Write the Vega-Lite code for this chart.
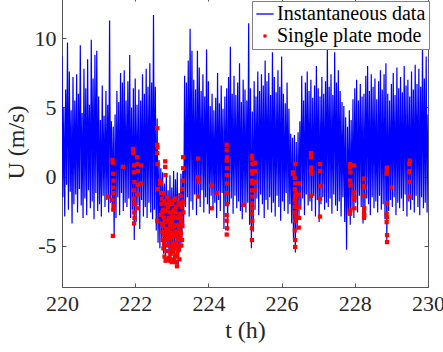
{
  "$schema": "https://vega.github.io/schema/vega-lite/v6.json",
  "width": 366,
  "height": 290,
  "autosize": {"type": "none"},
  "padding": {"left": 62, "top": -3, "right": 15, "bottom": 65},
  "background": "white",
  "datasets": {
    "inst": [
      {"t":220.000,"u":8.7},{"t":220.025,"u":-1.5},{"t":220.050,"u":5.0},{"t":220.075,"u":-2.9},{"t":220.100,"u":6.3},{"t":220.125,"u":-0.6},{"t":220.150,"u":9.7},{"t":220.175,"u":-2.4},{"t":220.200,"u":7.6},{"t":220.225,"u":-1.1},
      {"t":220.250,"u":4.8},{"t":220.275,"u":-3.4},{"t":220.300,"u":7.2},{"t":220.325,"u":-2.0},{"t":220.350,"u":5.5},{"t":220.375,"u":-1.3},{"t":220.400,"u":7.4},{"t":220.425,"u":-2.6},{"t":220.450,"u":6.0},{"t":220.475,"u":-0.9},
      {"t":220.500,"u":9.5},{"t":220.525,"u":-2.1},{"t":220.550,"u":4.6},{"t":220.575,"u":-3.0},{"t":220.600,"u":7.8},{"t":220.625,"u":-1.6},{"t":220.650,"u":6.4},{"t":220.675,"u":-2.8},{"t":220.700,"u":8.5},{"t":220.725,"u":-1.0},
      {"t":220.750,"u":5.2},{"t":220.775,"u":-2.3},{"t":220.800,"u":9.9},{"t":220.825,"u":-1.8},{"t":220.850,"u":7.1},{"t":220.875,"u":-3.1},{"t":220.900,"u":8.8},{"t":220.925,"u":-1.2},{"t":220.950,"u":9.1},{"t":220.975,"u":-2.5},
      {"t":221.000,"u":5.8},{"t":221.025,"u":-2.0},{"t":221.050,"u":4.1},{"t":221.075,"u":-2.9},{"t":221.100,"u":6.6},{"t":221.125,"u":-1.4},{"t":221.150,"u":4.4},{"t":221.175,"u":-2.2},{"t":221.200,"u":6.2},{"t":221.225,"u":-1.7},
      {"t":221.250,"u":5.2},{"t":221.275,"u":-2.6},{"t":221.300,"u":11.3},{"t":221.325,"u":-1.9},{"t":221.350,"u":4.0},{"t":221.375,"u":-2.4},{"t":221.400,"u":3.6},{"t":221.425,"u":-4.3},{"t":221.450,"u":4.5},{"t":221.475,"u":-3.0},
      {"t":221.500,"u":6.2},{"t":221.525,"u":-1.5},{"t":221.550,"u":5.4},{"t":221.575,"u":-2.8},{"t":221.600,"u":7.5},{"t":221.625,"u":-1.2},{"t":221.650,"u":6.8},{"t":221.675,"u":-2.5},{"t":221.700,"u":7.7},{"t":221.725,"u":-1.9},
      {"t":221.750,"u":5.5},{"t":221.775,"u":-2.2},{"t":221.800,"u":6.9},{"t":221.825,"u":-1.6},{"t":221.850,"u":8.8},{"t":221.875,"u":-3.0},{"t":221.900,"u":5.0},{"t":221.925,"u":-2.4},{"t":221.950,"u":6.4},{"t":221.975,"u":-4.6},
      {"t":222.000,"u":7.1},{"t":222.025,"u":-3.3},{"t":222.050,"u":5.2},{"t":222.075,"u":-2.1},{"t":222.100,"u":6.3},{"t":222.125,"u":-3.8},{"t":222.150,"u":5.5},{"t":222.175,"u":-1.7},{"t":222.200,"u":7.4},{"t":222.225,"u":-2.9},
      {"t":222.250,"u":6.0},{"t":222.275,"u":-2.2},{"t":222.300,"u":7.8},{"t":222.325,"u":-3.0},{"t":222.350,"u":6.5},{"t":222.375,"u":-1.9},{"t":222.400,"u":8.2},{"t":222.425,"u":-2.6},{"t":222.450,"u":6.8},{"t":222.475,"u":-3.1},
      {"t":222.500,"u":11.7},{"t":222.525,"u":-2.4},{"t":222.550,"u":6.5},{"t":222.575,"u":-3.9},{"t":222.600,"u":4.2},{"t":222.625,"u":-4.8},{"t":222.650,"u":1.2},{"t":222.675,"u":-5.2},{"t":222.700,"u":0.6},{"t":222.725,"u":-4.5},
      {"t":222.750,"u":0.3},{"t":222.775,"u":-5.6},{"t":222.800,"u":-0.5},{"t":222.825,"u":-6.1},{"t":222.850,"u":0.2},{"t":222.875,"u":-4.9},{"t":222.900,"u":-1.0},{"t":222.925,"u":-5.8},{"t":222.950,"u":0.1},{"t":222.975,"u":-6.0},
      {"t":223.000,"u":-0.8},{"t":223.025,"u":-5.5},{"t":223.050,"u":0.4},{"t":223.075,"u":-6.3},{"t":223.100,"u":-0.2},{"t":223.125,"u":-5.0},{"t":223.150,"u":0.3},{"t":223.175,"u":-6.4},{"t":223.200,"u":-1.2},{"t":223.225,"u":-5.4},
      {"t":223.250,"u":0.2},{"t":223.275,"u":-4.8},{"t":223.300,"u":0.4},{"t":223.325,"u":-3.5},{"t":223.350,"u":7.3},{"t":223.375,"u":-2.2},{"t":223.400,"u":6.8},{"t":223.425,"u":-1.5},{"t":223.450,"u":8.4},{"t":223.475,"u":-2.9},
      {"t":223.500,"u":10.7},{"t":223.525,"u":-1.8},{"t":223.550,"u":9.1},{"t":223.575,"u":-2.4},{"t":223.600,"u":7.0},{"t":223.625,"u":-1.3},{"t":223.650,"u":6.3},{"t":223.675,"u":-2.8},{"t":223.700,"u":9.1},{"t":223.725,"u":-1.6},
      {"t":223.750,"u":7.9},{"t":223.775,"u":-2.2},{"t":223.800,"u":6.2},{"t":223.825,"u":-1.0},{"t":223.850,"u":7.4},{"t":223.875,"u":-2.6},{"t":223.900,"u":5.8},{"t":223.925,"u":-1.5},{"t":223.950,"u":9.2},{"t":223.975,"u":-2.0},
      {"t":224.000,"u":6.9},{"t":224.025,"u":-2.7},{"t":224.050,"u":5.1},{"t":224.075,"u":-1.4},{"t":224.100,"u":6.0},{"t":224.125,"u":-2.3},{"t":224.150,"u":4.8},{"t":224.175,"u":-1.9},{"t":224.200,"u":5.7},{"t":224.225,"u":-3.0},
      {"t":224.250,"u":7.5},{"t":224.275,"u":-1.7},{"t":224.300,"u":5.3},{"t":224.325,"u":-2.5},{"t":224.350,"u":6.6},{"t":224.375,"u":-1.2},{"t":224.400,"u":4.9},{"t":224.425,"u":-3.8},{"t":224.450,"u":5.8},{"t":224.475,"u":-2.1},
      {"t":224.500,"u":6.4},{"t":224.525,"u":-3.9},{"t":224.550,"u":7.2},{"t":224.575,"u":-2.0},{"t":224.600,"u":9.4},{"t":224.625,"u":-1.6},{"t":224.650,"u":6.0},{"t":224.675,"u":-2.7},{"t":224.700,"u":7.3},{"t":224.725,"u":-1.4},
      {"t":224.750,"u":5.9},{"t":224.775,"u":-2.3},{"t":224.800,"u":6.8},{"t":224.825,"u":-1.8},{"t":224.850,"u":8.2},{"t":224.875,"u":-2.5},{"t":224.900,"u":5.4},{"t":224.925,"u":-3.1},{"t":224.950,"u":7.0},{"t":224.975,"u":-2.2},
      {"t":225.000,"u":6.3},{"t":225.025,"u":-2.6},{"t":225.050,"u":5.5},{"t":225.075,"u":-1.9},{"t":225.100,"u":11.1},{"t":225.125,"u":-3.5},{"t":225.150,"u":6.4},{"t":225.175,"u":-5.2},{"t":225.200,"u":4.7},{"t":225.225,"u":-4.0},
      {"t":225.250,"u":6.9},{"t":225.275,"u":-2.4},{"t":225.300,"u":5.8},{"t":225.325,"u":-1.6},{"t":225.350,"u":7.6},{"t":225.375,"u":-2.8},{"t":225.400,"u":6.2},{"t":225.425,"u":-1.3},{"t":225.450,"u":7.4},{"t":225.475,"u":-2.0},
      {"t":225.500,"u":6.6},{"t":225.525,"u":-3.0},{"t":225.550,"u":8.4},{"t":225.575,"u":-1.7},{"t":225.600,"u":6.9},{"t":225.625,"u":-2.4},{"t":225.650,"u":7.5},{"t":225.675,"u":-1.5},{"t":225.700,"u":5.9},{"t":225.725,"u":-2.6},
      {"t":225.750,"u":9.0},{"t":225.775,"u":-1.9},{"t":225.800,"u":7.2},{"t":225.825,"u":-2.9},{"t":225.850,"u":6.1},{"t":225.875,"u":-1.4},{"t":225.900,"u":7.7},{"t":225.925,"u":-2.2},{"t":225.950,"u":6.5},{"t":225.975,"u":-3.2},
      {"t":226.000,"u":8.7},{"t":226.025,"u":-1.8},{"t":226.050,"u":6.0},{"t":226.075,"u":-2.5},{"t":226.100,"u":5.3},{"t":226.125,"u":-1.2},{"t":226.150,"u":6.8},{"t":226.175,"u":-2.7},{"t":226.200,"u":4.9},{"t":226.225,"u":-2.0},
      {"t":226.250,"u":3.1},{"t":226.275,"u":-3.4},{"t":226.300,"u":2.8},{"t":226.325,"u":-4.6},{"t":226.350,"u":3.0},{"t":226.375,"u":-5.5},{"t":226.400,"u":2.5},{"t":226.425,"u":-3.8},{"t":226.450,"u":3.2},{"t":226.475,"u":-2.9},
      {"t":226.500,"u":4.0},{"t":226.525,"u":-2.4},{"t":226.550,"u":7.3},{"t":226.575,"u":-1.6},{"t":226.600,"u":5.5},{"t":226.625,"u":-2.8},{"t":226.650,"u":6.8},{"t":226.675,"u":-1.3},{"t":226.700,"u":7.6},{"t":226.725,"u":-2.1},
      {"t":226.750,"u":6.2},{"t":226.775,"u":-1.8},{"t":226.800,"u":7.0},{"t":226.825,"u":-2.5},{"t":226.850,"u":5.7},{"t":226.875,"u":-1.4},{"t":226.900,"u":6.6},{"t":226.925,"u":-2.9},{"t":226.950,"u":8.0},{"t":226.975,"u":-1.7},
      {"t":227.000,"u":6.4},{"t":227.025,"u":-3.3},{"t":227.050,"u":5.8},{"t":227.075,"u":-2.0},{"t":227.100,"u":7.2},{"t":227.125,"u":-1.5},{"t":227.150,"u":6.0},{"t":227.175,"u":-2.4},{"t":227.200,"u":6.9},{"t":227.225,"u":-1.9},
      {"t":227.250,"u":9.3},{"t":227.275,"u":-2.2},{"t":227.300,"u":6.5},{"t":227.325,"u":-1.6},{"t":227.350,"u":7.4},{"t":227.375,"u":-2.7},{"t":227.400,"u":5.9},{"t":227.425,"u":-1.3},{"t":227.450,"u":9.0},{"t":227.475,"u":-2.1},
      {"t":227.500,"u":6.8},{"t":227.525,"u":-2.5},{"t":227.550,"u":7.7},{"t":227.575,"u":-1.8},{"t":227.600,"u":6.2},{"t":227.625,"u":-2.9},{"t":227.650,"u":5.4},{"t":227.675,"u":-1.5},{"t":227.700,"u":5.1},{"t":227.725,"u":-3.3},
      {"t":227.750,"u":4.3},{"t":227.775,"u":-5.3},{"t":227.800,"u":3.6},{"t":227.825,"u":-2.8},{"t":227.850,"u":4.8},{"t":227.875,"u":-3.5},{"t":227.900,"u":4.1},{"t":227.925,"u":-2.4},{"t":227.950,"u":5.6},{"t":227.975,"u":-3.0},
      {"t":228.000,"u":6.4},{"t":228.025,"u":-1.9},{"t":228.050,"u":7.0},{"t":228.075,"u":-2.6},{"t":228.100,"u":5.5},{"t":228.125,"u":-1.4},{"t":228.150,"u":6.7},{"t":228.175,"u":-2.2},{"t":228.200,"u":5.8},{"t":228.225,"u":-3.4},
      {"t":228.250,"u":6.0},{"t":228.275,"u":-2.7},{"t":228.300,"u":7.3},{"t":228.325,"u":-1.6},{"t":228.350,"u":8.0},{"t":228.375,"u":-2.0},{"t":228.400,"u":6.2},{"t":228.425,"u":-2.8},{"t":228.450,"u":7.4},{"t":228.475,"u":-1.5},
      {"t":228.500,"u":6.5},{"t":228.525,"u":-2.3},{"t":228.550,"u":7.1},{"t":228.575,"u":-1.8},{"t":228.600,"u":5.6},{"t":228.625,"u":-2.6},{"t":228.650,"u":6.9},{"t":228.675,"u":-1.4},{"t":228.700,"u":7.7},{"t":228.725,"u":-2.4},
      {"t":228.750,"u":6.3},{"t":228.775,"u":-2.0},{"t":228.800,"u":7.4},{"t":228.825,"u":-3.1},{"t":228.850,"u":8.2},{"t":228.875,"u":-4.7},{"t":228.900,"u":6.0},{"t":228.925,"u":-2.5},{"t":228.950,"u":5.5},{"t":228.975,"u":-1.7},
      {"t":229.000,"u":6.7},{"t":229.025,"u":-2.2},{"t":229.050,"u":7.5},{"t":229.075,"u":-1.5},{"t":229.100,"u":5.9},{"t":229.125,"u":-2.8},{"t":229.150,"u":7.9},{"t":229.175,"u":-1.9},{"t":229.200,"u":6.4},{"t":229.225,"u":-2.3},
      {"t":229.250,"u":7.2},{"t":229.275,"u":-1.6},{"t":229.300,"u":6.1},{"t":229.325,"u":-2.5},{"t":229.350,"u":8.0},{"t":229.375,"u":-1.3},{"t":229.400,"u":6.6},{"t":229.425,"u":-2.9},{"t":229.450,"u":7.0},{"t":229.475,"u":-1.8},
      {"t":229.500,"u":5.8},{"t":229.525,"u":-2.4},{"t":229.550,"u":7.6},{"t":229.575,"u":-1.7},{"t":229.600,"u":6.3},{"t":229.625,"u":-2.6},{"t":229.650,"u":8.1},{"t":229.675,"u":-1.4},{"t":229.700,"u":6.7},{"t":229.725,"u":-2.2},
      {"t":229.750,"u":7.8},{"t":229.775,"u":-2.8},{"t":229.800,"u":6.5},{"t":229.825,"u":-1.5},{"t":229.850,"u":9.4},{"t":229.875,"u":-2.3},{"t":229.900,"u":7.1},{"t":229.925,"u":-1.9},{"t":229.950,"u":8.7},{"t":229.975,"u":-2.6},
      {"t":230.000,"u":4.5}
    ],
    "spm": [
      {"t":221.26,"u":-1.45},{"t":221.38,"u":1.2},{"t":221.39,"u":1.0},{"t":221.40,"u":0.2},{"t":221.41,"u":-0.3},{"t":221.39,"u":-0.8},{"t":221.40,"u":-1.2},{"t":221.38,"u":-1.7},{"t":221.41,"u":-2.1},{"t":221.40,"u":-2.4},{"t":221.39,"u":-4.3},
      {"t":221.67,"u":0.7},
      {"t":221.94,"u":2.0},{"t":221.95,"u":1.7},{"t":221.97,"u":0.8},{"t":221.96,"u":0.3},{"t":221.98,"u":-0.4},{"t":221.97,"u":-1.0},{"t":221.96,"u":-1.6},{"t":221.98,"u":-2.0},{"t":221.97,"u":-2.6},{"t":221.98,"u":-3.0},{"t":221.97,"u":-3.4},
      {"t":222.05,"u":1.4},{"t":222.06,"u":0.9},{"t":222.08,"u":0.4},{"t":222.07,"u":-0.6},{"t":222.08,"u":-1.3},{"t":222.07,"u":-2.3},{"t":222.16,"u":0.8},{"t":222.16,"u":-0.5},
      {"t":222.60,"u":3.5},{"t":222.60,"u":2.3},{"t":222.61,"u":2.1},{"t":222.60,"u":1.7},{"t":222.61,"u":0.9},{"t":222.62,"u":-0.9},{"t":222.60,"u":-3.2},{"t":222.68,"u":-0.3},{"t":222.68,"u":-0.5},
      {"t":222.82,"u":1.1},{"t":222.82,"u":0.7},{"t":222.83,"u":0.1},
      {"t":222.70,"u":-0.5},{"t":222.71,"u":-1.2},{"t":222.72,"u":-2.0},{"t":222.70,"u":-2.8},{"t":222.73,"u":-3.4},{"t":222.74,"u":-4.0},{"t":222.75,"u":-4.6},{"t":222.77,"u":-5.2},{"t":222.80,"u":-5.8},{"t":222.83,"u":-6.1},{"t":222.78,"u":-3.0},{"t":222.80,"u":-1.8},{"t":222.82,"u":-2.5},{"t":222.84,"u":-3.8},{"t":222.85,"u":-4.6},{"t":222.86,"u":-5.4},{"t":222.78,"u":-1.2},{"t":222.76,"u":-2.4},
      {"t":222.88,"u":-1.5},{"t":222.90,"u":-2.2},{"t":222.92,"u":-3.0},{"t":222.90,"u":-3.8},{"t":222.93,"u":-4.5},{"t":222.95,"u":-5.0},{"t":222.97,"u":-5.6},{"t":222.92,"u":-5.9},{"t":222.99,"u":-2.6},{"t":223.00,"u":-3.3},{"t":223.01,"u":-4.1},{"t":223.02,"u":-4.8},{"t":223.03,"u":-5.5},{"t":223.04,"u":-6.0},{"t":222.96,"u":-1.8},{"t":223.05,"u":-2.4},{"t":223.06,"u":-3.6},{"t":223.07,"u":-4.3},{"t":223.08,"u":-5.2},{"t":223.09,"u":-5.8},{"t":222.98,"u":-4.4},{"t":223.00,"u":-6.2},{"t":222.94,"u":-2.6},
      {"t":223.10,"u":-1.6},{"t":223.11,"u":-2.6},{"t":223.12,"u":-3.5},{"t":223.13,"u":-4.2},{"t":223.14,"u":-5.0},{"t":223.14,"u":-6.5},{"t":223.15,"u":-5.7},{"t":223.16,"u":-3.0},{"t":223.17,"u":-4.6},{"t":223.18,"u":-2.0},{"t":223.19,"u":-5.3},{"t":223.20,"u":-3.8},{"t":223.21,"u":-6.0},{"t":223.22,"u":-2.7},{"t":223.23,"u":-4.4},{"t":223.24,"u":-1.4},{"t":223.25,"u":-3.3},{"t":223.26,"u":-5.0},{"t":223.27,"u":-2.2},{"t":223.28,"u":-0.9},{"t":223.29,"u":-3.6},{"t":223.30,"u":-0.3},{"t":223.31,"u":0.6},{"t":223.31,"u":1.4},{"t":223.30,"u":-1.8},{"t":223.32,"u":-2.6},
      {"t":222.73,"u":-1.6},{"t":222.74,"u":-2.6},{"t":222.76,"u":-3.6},{"t":222.77,"u":-4.2},{"t":222.79,"u":-4.9},{"t":222.81,"u":-3.3},{"t":222.83,"u":-4.2},{"t":222.85,"u":-2.0},{"t":222.87,"u":-3.2},{"t":222.88,"u":-4.0},{"t":222.89,"u":-5.0},{"t":222.91,"u":-4.3},{"t":222.93,"u":-1.9},{"t":222.95,"u":-3.5},{"t":222.96,"u":-4.0},{"t":222.97,"u":-3.0},{"t":222.99,"u":-5.3},{"t":223.01,"u":-2.0},{"t":223.02,"u":-3.7},{"t":223.03,"u":-2.9},{"t":223.05,"u":-5.0},{"t":223.06,"u":-1.7},{"t":223.08,"u":-3.0},{"t":223.09,"u":-4.0},{"t":223.11,"u":-4.8},{"t":223.12,"u":-2.2},{"t":223.13,"u":-3.0},{"t":223.15,"u":-4.0},{"t":223.16,"u":-5.4},{"t":223.18,"u":-3.5},{"t":223.19,"u":-4.2},{"t":223.20,"u":-1.9},{"t":223.21,"u":-2.8},{"t":223.22,"u":-5.0},{"t":223.24,"u":-3.0},{"t":223.25,"u":-4.1},{"t":223.27,"u":-3.3},{"t":223.28,"u":-4.6},{"t":223.29,"u":-2.0},{"t":222.86,"u":-6.0},{"t":223.11,"u":-6.2},{"t":223.07,"u":-6.1},{"t":222.95,"u":-6.1},
      {"t":223.72,"u":1.3},{"t":223.72,"u":-0.05},{"t":223.73,"u":-0.4},{"t":223.72,"u":-1.45},
      {"t":224.08,"u":-0.65},{"t":224.09,"u":-2.3},{"t":224.23,"u":-1.2},
      {"t":224.50,"u":2.3},{"t":224.50,"u":1.9},{"t":224.51,"u":1.4},{"t":224.50,"u":1.15},{"t":224.51,"u":0.6},{"t":224.50,"u":0.1},{"t":224.51,"u":-0.5},{"t":224.50,"u":-1.2},{"t":224.51,"u":-2.0},{"t":224.50,"u":-2.8},{"t":224.50,"u":-3.2},{"t":224.51,"u":-3.75},{"t":224.50,"u":-4.2},
      {"t":224.95,"u":-2.05},
      {"t":225.19,"u":1.5},{"t":225.19,"u":1.3},{"t":225.20,"u":0.9},{"t":225.19,"u":0.4},{"t":225.20,"u":0.2},{"t":225.19,"u":-0.3},{"t":225.20,"u":-0.5},{"t":225.19,"u":-1.0},{"t":225.20,"u":-1.45},{"t":225.19,"u":-1.95},{"t":225.20,"u":-2.3},{"t":225.19,"u":-2.7},{"t":225.20,"u":-3.2},{"t":225.19,"u":-3.75},{"t":225.19,"u":-4.6},
      {"t":225.27,"u":1.0},{"t":225.27,"u":0.4},{"t":225.28,"u":-0.4},{"t":225.27,"u":-1.0},
      {"t":226.31,"u":0.3},{"t":226.31,"u":0.2},{"t":226.37,"u":0.9},{"t":226.36,"u":-0.1},{"t":226.37,"u":-0.5},{"t":226.36,"u":-0.9},{"t":226.38,"u":-1.2},{"t":226.37,"u":-1.45},{"t":226.36,"u":-1.7},{"t":226.38,"u":-1.9},{"t":226.37,"u":-2.2},{"t":226.36,"u":-2.6},{"t":226.38,"u":-2.9},{"t":226.37,"u":-3.2},{"t":226.36,"u":-3.9},{"t":226.37,"u":-4.6},{"t":226.37,"u":-5.1},
      {"t":226.47,"u":-0.5},{"t":226.48,"u":-1.3},{"t":226.47,"u":-2.2},{"t":226.48,"u":-3.0},{"t":226.47,"u":-3.7},
      {"t":226.80,"u":1.7},{"t":226.80,"u":1.4},{"t":226.81,"u":0.65},{"t":226.80,"u":0.4},{"t":226.81,"u":0.2},{"t":226.80,"u":-1.4},
      {"t":227.05,"u":0.9},{"t":227.05,"u":0.4},{"t":227.06,"u":-0.7},{"t":227.05,"u":-1.6},{"t":227.05,"u":-2.9},
      {"t":227.87,"u":0.9},{"t":227.87,"u":0.65},{"t":227.88,"u":0.3},{"t":227.87,"u":-0.3},{"t":227.88,"u":-0.65},{"t":227.98,"u":0.8},{"t":227.98,"u":-1.15},{"t":227.99,"u":-1.5},{"t":227.98,"u":-1.7},{"t":227.99,"u":-2.3},{"t":227.88,"u":-2.45},{"t":227.87,"u":-2.7},
      {"t":228.25,"u":-0.15},{"t":228.25,"u":-0.7},{"t":228.26,"u":-0.8},{"t":228.25,"u":-1.4},{"t":228.26,"u":-2.3},{"t":228.25,"u":-2.6},{"t":228.26,"u":-2.8},{"t":228.25,"u":-3.0},
      {"t":228.88,"u":0.65},{"t":228.88,"u":0.4},{"t":228.87,"u":0.2},{"t":228.88,"u":-1.95},{"t":228.87,"u":-2.7},{"t":228.88,"u":-2.95},{"t":228.87,"u":-3.3},{"t":228.88,"u":-4.25},{"t":228.88,"u":-4.75},
      {"t":228.99,"u":-0.8},
      {"t":229.50,"u":1.15},{"t":229.49,"u":0.9},{"t":229.50,"u":0.4},{"t":229.49,"u":0.3},{"t":229.50,"u":-0.4},{"t":229.50,"u":-1.45}
    ]
  },
  "layer": [
    {
      "data": {"name": "inst"},
      "mark": {"type": "line", "strokeWidth": 1.2, "clip": true},
      "encoding": {
        "x": {"field": "t", "type": "quantitative", "scale": {"domain": [220, 230], "nice": false},
              "axis": {"orient": "bottom", "title": "t (h)", "values": [220, 222, 224, 226, 228, 230], "labelPadding": 10, "titlePadding": 4}},
        "y": {"field": "u", "type": "quantitative", "scale": {"domain": [-8, 13], "nice": false, "zero": false},
              "axis": {"orient": "left", "title": "U (m/s)", "values": [-5, 0, 5, 10], "labelPadding": 10, "titlePadding": 6, "labelExpr": "replace(datum.label, '−', '-')"}},
        "color": {"datum": "Instantaneous data", "type": "nominal",
                  "scale": {"domain": ["Instantaneous data", "Single plate mode"], "range": ["#0000ff", "#ff0000"]},
                  "legend": {
                    "orient": "none", "legendX": 190, "legendY": 4, "title": null,
                    "labelFont": "Liberation Serif", "labelFontSize": 20, "labelColor": "#000000",
                    "padding": 3, "rowPadding": 2, "labelOffset": 2,
                    "strokeColor": "#808080", "fillColor": "white", "symbolSize": 289,
                    "encode": {"symbols": {"update": {
                      "shape": {"signal": "datum.value === 'Instantaneous data' ? 'stroke' : 'square'"},
                      "size": {"signal": "datum.value === 'Instantaneous data' ? 300 : 10"},
                      "stroke": {"signal": "datum.value === 'Instantaneous data' ? '#5a5aff' : '#ff0000'"},
                      "fill": {"signal": "datum.value === 'Instantaneous data' ? 'transparent' : '#ff0000'"},
                      "strokeWidth": {"signal": "datum.value === 'Instantaneous data' ? 1.3 : 0"},
                      "opacity": {"value": 1}
                    }}}
                  }}
      }
    },
    {
      "mark": {"type": "rule", "color": "#000000", "strokeWidth": 1.3},
      "encoding": {"y": {"datum": 0, "type": "quantitative", "scale": {"domain": [-8, 13], "nice": false, "zero": false}, "axis": null}}
    },
    {
      "data": {"name": "spm"},
      "mark": {"type": "square", "size": 18, "filled": true, "opacity": 1, "clip": true},
      "encoding": {
        "x": {"field": "t", "type": "quantitative", "scale": {"domain": [220, 230], "nice": false},
              "axis": {"orient": "top", "labels": false, "title": null, "values": [220, 222, 224, 226, 228, 230]}},
        "y": {"field": "u", "type": "quantitative", "scale": {"domain": [-8, 13], "nice": false, "zero": false},
              "axis": {"orient": "right", "labels": false, "title": null, "values": [-5, 0, 5, 10]}},
        "color": {"datum": "Single plate mode", "type": "nominal"}
      }
    }
  ],
  "resolve": {"scale": {"x": "independent", "y": "independent"}},
  "config": {
    "view": {"stroke": "#555555", "strokeWidth": 1},
    "axis": {
      "grid": false, "domainColor": "#555555", "tickColor": "#555555", "tickSize": -4,
      "labelFont": "Liberation Serif", "titleFont": "Liberation Serif",
      "labelFontSize": 22, "titleFontSize": 24, "labelColor": "#262626", "titleColor": "#262626",
      "titleFontWeight": "normal", "labelFlush": false, "labelOverlap": false
    }
  }
}
